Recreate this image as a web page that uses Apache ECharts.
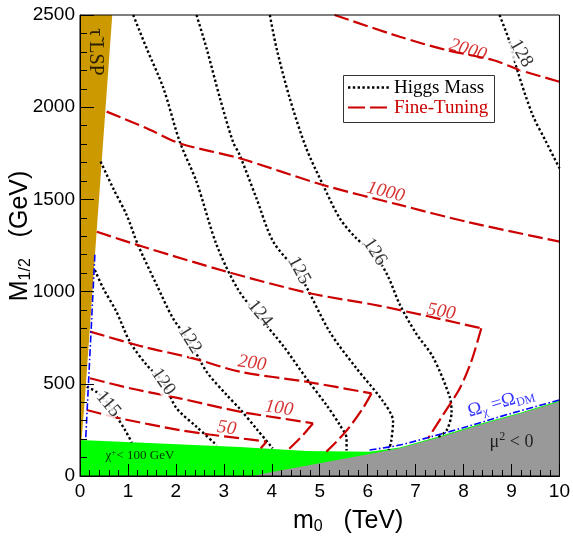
<!DOCTYPE html>
<html>
<head>
<meta charset="utf-8">
<script src="https://cdn.jsdelivr.net/npm/echarts@6/dist/echarts.min.js"></script>
<style>
  html, body { margin: 0; padding: 0; background: #fff; }
  #chart { width: 573px; height: 537px; }
</style>
</head>
<body>
<div id="chart"></div>
<script>
// m0 in TeV, M1/2 in GeV

// Higgs mass contours
const higgs115 = [[0.14, 484], [0.35, 455], [0.56, 401], [0.77, 320], [0.94, 249], [1.08, 182]];
const higgs120 = [[0.31, 1117], [0.48, 1020], [0.76, 891], [1.04, 728], [1.39, 602], [1.73, 510], [2.01, 369], [2.43, 267], [2.85, 168]];
const higgs122 = [[0.43, 1705], [0.69, 1561], [0.97, 1417], [1.21, 1253], [1.60, 1036], [1.94, 855], [2.29, 728], [2.64, 566], [3.06, 439], [3.33, 365], [3.70, 250], [4.02, 150]];
const higgs124 = [[1.11, 2500], [1.39, 2319], [1.74, 2103], [2.08, 1813], [2.43, 1596], [2.85, 1253], [3.3, 1010], [3.75, 860], [4.24, 705], [4.72, 530], [5.14, 385], [5.42, 276], [5.56, 204], [5.56, 138]];
const higgs125 = [[2.43, 2500], [2.64, 2319], [2.92, 2048], [3.19, 1813], [3.33, 1741], [3.68, 1506], [4.03, 1271], [4.58, 1090], [5.21, 781], [5.76, 586], [6.32, 405], [6.53, 296], [6.49, 188], [6.44, 141]];
const higgs126 = [[3.96, 2500], [4.10, 2319], [4.375, 2048], [4.72, 1777], [5.07, 1578], [5.42, 1397], [5.76, 1290], [6.15, 1200], [6.42, 1085], [6.67, 930], [7.01, 773], [7.36, 646], [7.71, 430], [7.75, 347], [7.65, 249], [7.47, 212]];
const higgs128 = [[8.75, 2500], [8.96, 2355], [9.13, 2193], [9.44, 1958], [9.72, 1813], [10, 1669]];

// Fine-tuning contours (index of the sharp corner, -1 if none)
const ft2000 = [[5.31, 2500], [6.67, 2382], [7.64, 2310], [8.61, 2256], [9.17, 2202], [10, 2138]];
const ft1000 = [[0.556, 1976], [1.39, 1886], [2.08, 1804], [3.33, 1723], [5.07, 1578], [6.67, 1470], [8.06, 1379], [10, 1271]];
const ft500 = [[0.35, 1325], [1.32, 1243], [3.06, 1108], [4.79, 991], [6.25, 923], [8.37, 801], [8.16, 620], [7.92, 475], [7.57, 331], [7.26, 204]];
const ft500Corner = 5;
const ft200 = [[0.21, 783], [1.32, 701], [2.36, 638], [3.33, 566], [4.72, 511], [6.08, 448], [5.90, 367], [5.625, 267], [5.35, 186], [5.14, 132]];
const ft200Corner = 5;
const ft100 = [[0.21, 530], [1.04, 476], [2.08, 421], [3.33, 349], [4.17, 314], [4.86, 286], [4.65, 222], [4.375, 150], [4.31, 134]];
const ft100Corner = 5;
const ft50 = [[0.14, 358], [0.83, 313], [2.08, 249], [2.7, 225], [3.33, 205], [3.89, 186], [3.77, 150]];
const ft50Corner = 5;

// relic density line (two branches)
const relicLeft = [[0.31, 1200], [0.12, 206]];
const relicRight = [[6.04, 141], [6.67, 168], [7.35, 215], [8.06, 267], [9.0, 340], [10, 412]];

// excluded regions
const stauRegion = [[0, 2500], [0.673, 2500], [0.327, 1253], [0.10, 412], [0.03, 190], [0, 190]];
const charginoRegion = [[0, 0], [0, 195], [1.67, 176], [3.33, 157], [4.72, 136], [6.04, 132], [6.67, 155], [7.5, 215], [8.33, 282], [9.2, 345], [10, 408], [10, 0]];
const muRegion = [[3.6, 0], [4.03, 23], [5.0, 69], [5.9, 112], [6.67, 150], [7.5, 210], [8.33, 277], [9.2, 340], [10, 403], [10, 0]];

// contour labels: [m0, M1/2, text, rotation]
const higgsLabels = [
  [0.59, 390, '115', -50],
  [1.735, 511, '120', -55],
  [2.29, 738, '122', -58],
  [3.75, 882, '124', -51],
  [4.57, 1115, '125', -62],
  [6.15, 1216, '126', -57],
  [9.20, 2292, '128', -60]
];
const ftLabels = [
  [8.09, 2310, '2000', -17],
  [6.375, 1540, '1000', -14],
  [7.535, 891, '500', -10],
  [3.59, 611, '200', -8],
  [4.15, 367, '100', -8],
  [3.06, 259, '50', -8]
];

const serif = 'Liberation Serif';
const sans = 'Liberation Sans';
const RED = '#cc0000';
const DOT = [2.4, 2.4];
const DASH = [15, 5];

const chart = echarts.init(document.getElementById('chart'));

function region(points, color) {
  return {
    type: 'custom',
    silent: true,
    z: 1,
    data: [[0, 0]],
    renderItem: (params, api) => ({
      type: 'polygon',
      shape: { points: points.map(p => api.coord(p)) },
      style: { fill: color }
    })
  };
}

function line(data, color, dash, width) {
  return {
    type: 'line',
    data: data,
    symbol: 'none',
    smooth: 0.3,
    silent: true,
    z: 3,
    lineStyle: { color: color, width: width, type: dash }
  };
}

// red contour split at its corner so the corner stays sharp
function ftLines(data, corner) {
  if (corner < 0) return [line(data, RED, DASH, 2.2)];
  return [
    line(data.slice(0, corner + 1), RED, DASH, 2.2),
    line(data.slice(corner), RED, DASH, 2.2)
  ];
}

function labels(list, color, italic, bg) {
  return {
    type: 'scatter',
    silent: true,
    z: 5,
    symbolSize: 1,
    itemStyle: { color: 'rgba(0,0,0,0)' },
    data: list.map(d => ({ value: [d[0], d[1]], label: { formatter: d[2], rotate: d[3] } })),
    label: {
      show: true,
      position: 'inside',
      color: color,
      fontFamily: serif,
      fontSize: 19,
      fontStyle: italic ? 'italic' : 'normal',
      backgroundColor: bg,
      padding: [0, 1]
    }
  };
}

const regionText = {
  type: 'scatter',
  silent: true,
  z: 5,
  symbolSize: 1,
  itemStyle: { color: 'rgba(0,0,0,0)' },
  label: { show: true, position: 'inside', fontFamily: serif },
  data: [
    { value: [1.25, 110], label: {
      formatter: '{a|χ}{s|+}{a|< 100 GeV}',
      rich: {
        a: { fontFamily: serif, fontSize: 13, color: '#000', lineHeight: 16 },
        s: { fontFamily: serif, fontSize: 9, color: '#000', lineHeight: 9, verticalAlign: 'top' }
      } } },
    { value: [9.0, 185], label: {
      formatter: '{a|μ}{s|2}{a| < 0}',
      rich: {
        a: { fontFamily: serif, fontSize: 18, color: '#000', lineHeight: 22 },
        s: { fontFamily: serif, fontSize: 12, color: '#000', lineHeight: 12, verticalAlign: 'top' }
      } } },
    { value: [8.78, 398], label: {
      rotate: 16,
      formatter: '{a|Ω}{s|χ}{a| =Ω}{s|DM}',
      rich: {
        a: { fontFamily: serif, fontSize: 19, color: '#0000ff', lineHeight: 22 },
        s: { fontFamily: serif, fontSize: 12, color: '#0000ff', lineHeight: 12, verticalAlign: 'bottom' }
      } } },
    { value: [0.31, 2300], label: {
      rotate: -90,
      formatter: 'τ\u0303 LSP',
      fontSize: 20,
      color: '#000'
    } }
  ]
};

const option = {
  animation: false,
  backgroundColor: '#fff',
  grid: { left: 80, right: 13, top: 15, bottom: 61, show: true, z: 10, borderColor: '#000', borderWidth: 1, backgroundColor: 'transparent' },
  xAxis: {
    type: 'value', min: 0, max: 10, interval: 1, z: 10,
    axisLine: { lineStyle: { color: '#000', width: 1 } },
    axisTick: { inside: true, length: 12, lineStyle: { color: '#000' } },
    minorTick: { show: true, splitNumber: 5, length: 6, lineStyle: { color: '#000' } },
    splitLine: { show: false },
    axisLabel: { color: '#000', fontFamily: sans, fontSize: 19, margin: 6, formatter: v => String(v) }
  },
  yAxis: {
    type: 'value', min: 0, max: 2500, interval: 500, z: 10,
    axisLine: { show: true, lineStyle: { color: '#000', width: 1 } },
    axisTick: { show: true, inside: true, length: 14, lineStyle: { color: '#000' } },
    minorTick: { show: true, splitNumber: 5, length: 7, lineStyle: { color: '#000' } },
    splitLine: { show: false },
    axisLabel: { color: '#000', fontFamily: sans, fontSize: 19, margin: 5, formatter: v => String(v) }
  },
  graphic: [
    { type: 'rect', z: 20, shape: { x: 343.5, y: 75.5, width: 151, height: 47 }, style: { fill: '#fff', stroke: '#333', lineWidth: 1 } },
    { type: 'line', z: 21, shape: { x1: 348, y1: 87.5, x2: 390, y2: 87.5 }, style: { stroke: '#000', lineWidth: 2.4, lineDash: DOT } },
    { type: 'line', z: 21, shape: { x1: 348, y1: 107.5, x2: 390, y2: 107.5 }, style: { stroke: RED, lineWidth: 2.2, lineDash: [17, 5] } },
    { type: 'text', z: 21, x: 394, y: 88, style: { text: 'Higgs Mass', fill: '#000', font: '19px "Liberation Serif"', verticalAlign: 'middle' } },
    { type: 'text', z: 21, x: 394, y: 108, style: { text: 'Fine-Tuning', fill: RED, font: '19px "Liberation Serif"', verticalAlign: 'middle' } },
    { type: 'text', z: 21, x: 293, y: 521, style: {
      text: '{m|m}{s|0}{m|   (TeV)}', verticalAlign: 'middle',
      rich: {
        m: { fontFamily: sans, fontSize: 25, fill: '#000', lineHeight: 28 },
        s: { fontFamily: sans, fontSize: 16, fill: '#000', lineHeight: 16, verticalAlign: 'bottom' }
      } } },
    { type: 'text', z: 21, x: 20, y: 236, rotation: Math.PI / 2, style: {
      text: '{m|M}{s|1/2}{m|   (GeV)}', align: 'center', verticalAlign: 'middle',
      rich: {
        m: { fontFamily: sans, fontSize: 25, fill: '#000', lineHeight: 28 },
        s: { fontFamily: sans, fontSize: 16, fill: '#000', lineHeight: 16, verticalAlign: 'bottom' }
      } } }
  ],
  series: [
    region(charginoRegion, '#00ff00'),
    region(muRegion, '#999999'),
    region(stauRegion, '#cc9900'),
    line(higgs115, '#000', DOT, 2.4),
    line(higgs120, '#000', DOT, 2.4),
    line(higgs122, '#000', DOT, 2.4),
    line(higgs124, '#000', DOT, 2.4),
    line(higgs125, '#000', DOT, 2.4),
    line(higgs126, '#000', DOT, 2.4),
    line(higgs128, '#000', DOT, 2.4),
    ...ftLines(ft2000, -1),
    ...ftLines(ft1000, -1),
    ...ftLines(ft500, ft500Corner),
    ...ftLines(ft200, ft200Corner),
    ...ftLines(ft100, ft100Corner),
    ...ftLines(ft50, ft50Corner),
    line(relicLeft, '#0000ff', [7, 2.5, 1.5, 2.5], 1.6),
    line(relicRight, '#0000ff', [7, 2.5, 1.5, 2.5], 1.6),
    labels(higgsLabels, '#000', false, '#fff'),
    labels(ftLabels, RED, true, null),
    regionText
  ]
};

chart.setOption(option);
</script>
</body>
</html>
